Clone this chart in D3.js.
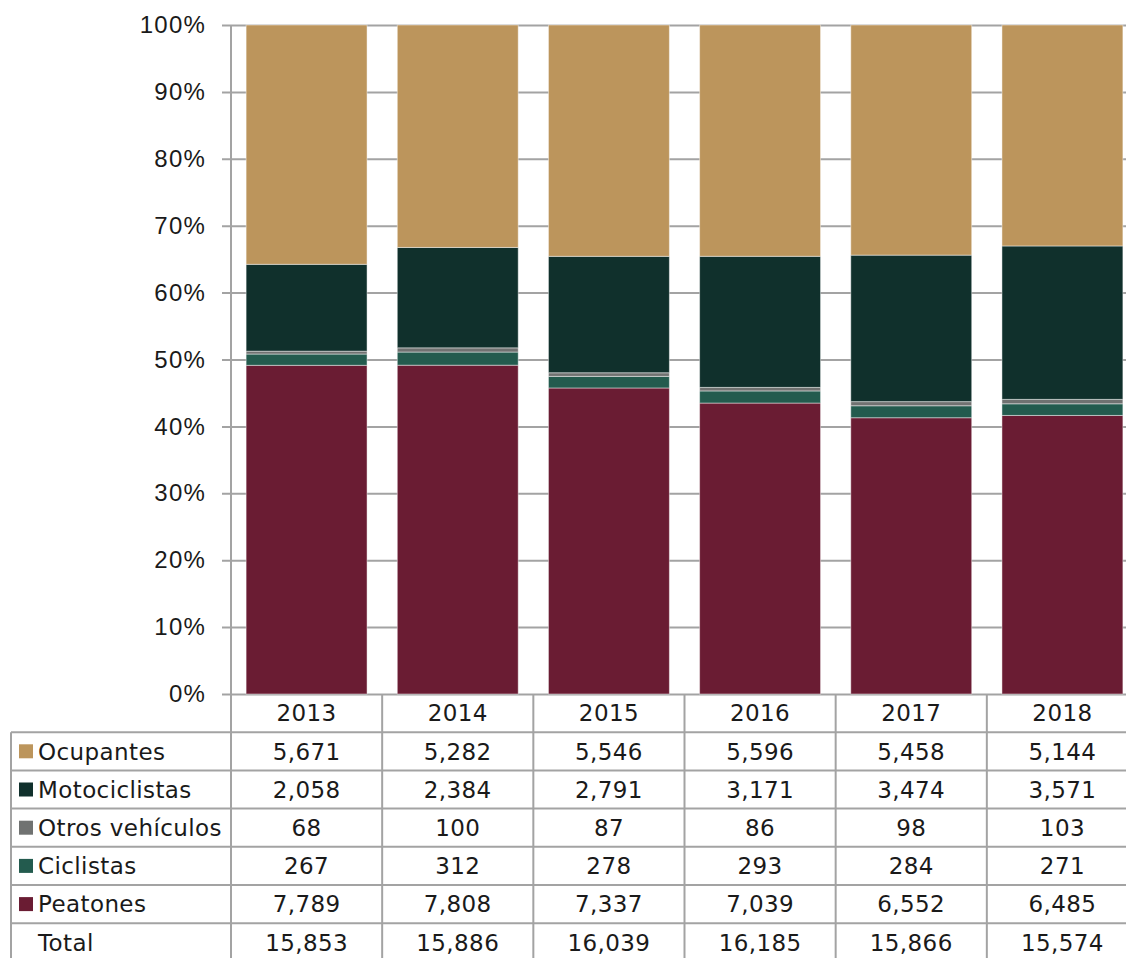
<!DOCTYPE html>
<html>
<head>
<meta charset="utf-8">
<script src="https://cdn.jsdelivr.net/npm/d3@7"></script>
<style>
  body { margin: 0; background: #fff; }
  svg { font-family: "DejaVu Sans", "Noto Sans", sans-serif; }
  svg text { letter-spacing: 0.4px; }
</style>
</head>
<body>
<svg id="chart" width="1126" height="958"></svg>
<script>
// data
var years = ["2013", "2014", "2015", "2016", "2017", "2018"];
var seriesNames = ["Peatones", "Ciclistas", "Otros vehículos", "Motociclistas", "Ocupantes"];
var peatones      = [7789, 7808, 7337, 7039, 6552, 6485];
var ciclistas     = [267, 312, 278, 293, 284, 271];
var otros         = [68, 100, 87, 86, 98, 103];
var motociclistas = [2058, 2384, 2791, 3171, 3474, 3571];
var ocupantes     = [5671, 5282, 5546, 5596, 5458, 5144];
var totals        = [15853, 15886, 16039, 16185, 15866, 15574];
var yTicks = [0, 0.1, 0.2, 0.3, 0.4, 0.5, 0.6, 0.7, 0.8, 0.9, 1];

var colors = {
  "Peatones": "#6a1c33",
  "Ciclistas": "#235b4e",
  "Otros vehículos": "#707271",
  "Motociclistas": "#10302c",
  "Ocupantes": "#bc955c"
};

var valuesBySeries = {
  "Peatones": peatones,
  "Ciclistas": ciclistas,
  "Otros vehículos": otros,
  "Motociclistas": motociclistas,
  "Ocupantes": ocupantes
};

var rows = years.map(function(y, i) {
  var r = { year: y };
  seriesNames.forEach(function(s) { r[s] = valuesBySeries[s][i]; });
  return r;
});

var svg = d3.select("#chart");
var plotLeft = 231, plotRight = 1138, plotTop = 25, plotBottom = 694;
var rowH = 38.2, tableLeft = 11;
var gridColor = "#a3a3a3";
var fontSize = 23;

var x = d3.scaleBand().domain(years).range([plotLeft, plotRight]).paddingInner(0.2).paddingOuter(0.1);
var col = d3.scaleBand().domain(years).range([plotLeft, plotRight]);
var y = d3.scaleLinear().domain([0, 1]).range([plotBottom, plotTop]);

var stack = d3.stack().keys(seriesNames).offset(d3.stackOffsetExpand);
var stacked = stack(rows);

// gridlines + y labels
var yAxis = d3.axisLeft(y).tickValues(yTicks).tickFormat(d3.format(".0%"))
  .tickSize(-(plotRight - plotLeft)).tickSizeOuter(0);
var gy = svg.append("g").attr("transform", "translate(" + plotLeft + ",0)").call(yAxis);
gy.select(".domain").remove();
gy.selectAll(".tick line").attr("x1", -9).attr("stroke", gridColor).attr("stroke-width", 2);
gy.selectAll(".tick text").attr("x", -25).attr("font-size", 24).attr("fill", "#1a1a1a")
  .style("letter-spacing", "1.2px")
  .style("font-family", "inherit");

// bars
svg.append("g").selectAll("g").data(stacked).join("g")
  .attr("fill", function(d) { return colors[d.key]; })
  .selectAll("rect").data(function(d) { return d; }).join("rect")
  .attr("x", function(d) { return x(d.data.year); })
  .attr("width", x.bandwidth())
  .attr("y", function(d) { return y(d[1]); })
  .attr("height", function(d) { return y(d[0]) - y(d[1]); })
  .attr("stroke", "#fff").attr("stroke-opacity", 0.45).attr("stroke-width", 1);

// y axis line
svg.append("line").attr("x1", plotLeft).attr("x2", plotLeft).attr("y1", plotTop).attr("y2", 958)
  .attr("stroke", gridColor).attr("stroke-width", 2);

// data table
var tableRows = ["Ocupantes", "Motociclistas", "Otros vehículos", "Ciclistas", "Peatones", "Total"];
var tbl = svg.append("g");
var tableTop = plotBottom + rowH;

tableRows.forEach(function(r, i) {
  tbl.append("line").attr("x1", tableLeft).attr("x2", plotRight)
    .attr("y1", tableTop + i * rowH).attr("y2", tableTop + i * rowH)
    .attr("stroke", gridColor).attr("stroke-width", 2);
});
tbl.append("line").attr("x1", tableLeft).attr("x2", tableLeft)
  .attr("y1", tableTop).attr("y2", 958).attr("stroke", gridColor).attr("stroke-width", 2);
years.forEach(function(yr) {
  var cx = col(yr) + col.bandwidth();
  tbl.append("line").attr("x1", cx).attr("x2", cx).attr("y1", plotBottom).attr("y2", 958)
    .attr("stroke", gridColor).attr("stroke-width", 2);
});

// header years
tbl.selectAll("text.year").data(years).join("text").attr("class", "year")
  .attr("x", function(d) { return col(d) + col.bandwidth() / 2; })
  .attr("y", plotBottom + rowH / 2).attr("dy", "0.36em")
  .attr("text-anchor", "middle").attr("font-size", fontSize).attr("fill", "#1a1a1a")
  .text(function(d) { return d; });

var fmt = d3.format(",");
tableRows.forEach(function(r, i) {
  var cy = tableTop + i * rowH + rowH / 2;
  if (colors[r]) {
    tbl.append("rect").attr("x", 19).attr("y", cy - 7).attr("width", 14).attr("height", 14)
      .attr("fill", colors[r]);
  }
  tbl.append("text").attr("x", 38).attr("y", cy).attr("dy", "0.36em")
    .attr("font-size", fontSize).attr("fill", "#1a1a1a").text(r);
  var vals = r === "Total" ? totals : valuesBySeries[r];
  tbl.selectAll("text.v" + i).data(vals).join("text").attr("class", "v" + i)
    .attr("x", function(d, j) { return col(years[j]) + col.bandwidth() / 2; })
    .attr("y", cy).attr("dy", "0.36em")
    .attr("text-anchor", "middle").attr("font-size", fontSize).attr("fill", "#1a1a1a")
    .text(function(d) { return fmt(d); });
});
</script>
</body>
</html>
